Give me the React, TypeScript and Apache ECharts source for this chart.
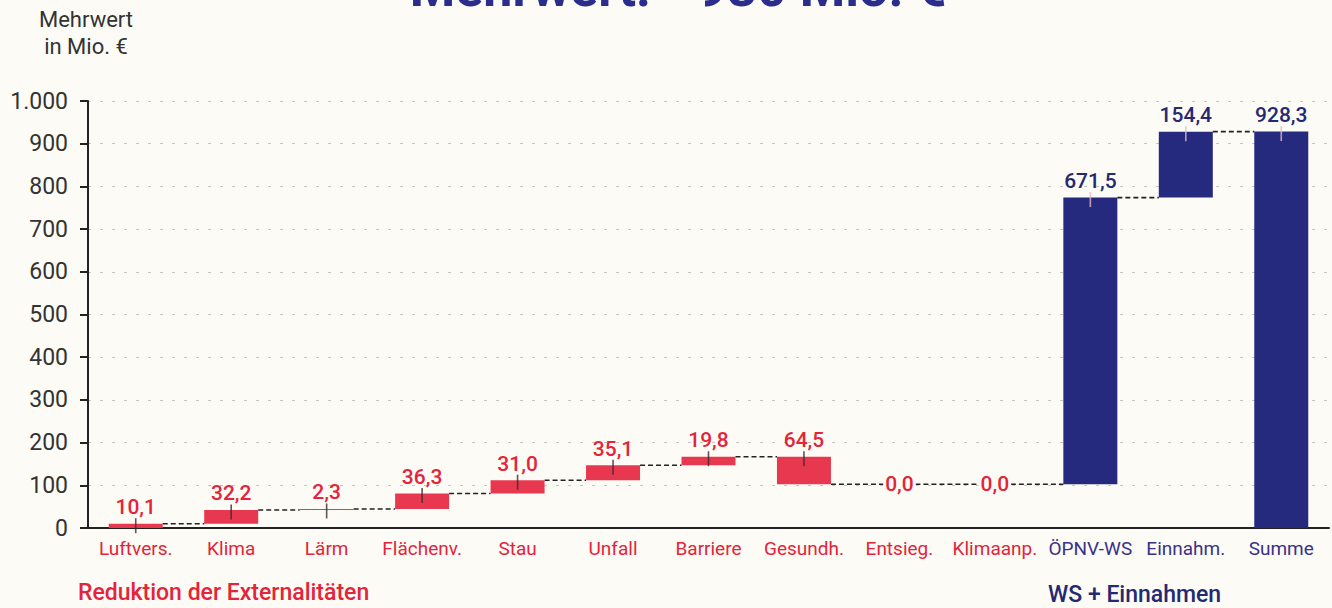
import { useEffect, useRef } from "react";
import * as echarts from "echarts";

const categories = ["Luftvers.", "Klima", "Lärm", "Flächenv.", "Stau", "Unfall", "Barriere", "Gesundh.", "Entsieg.", "Klimaanp.", "ÖPNV-WS", "Einnahm.", "Summe"];
const changes = [10.1, 32.2, 2.3, 36.3, 31.0, 35.1, 19.8, -64.5, 0.0, 0.0, 671.5, 154.4, 928.3];
const isTotal = [false, false, false, false, false, false, false, false, false, false, false, false, true];
const groups = ["ext", "ext", "ext", "ext", "ext", "ext", "ext", "ext", "ext", "ext", "ws", "ws", "sum"];
const yTickLabels = ["0", "100", "200", "300", "400", "500", "600", "700", "800", "900", "1.000"];

const BG = "#fcfbf6";
const RED_BAR = "#e8384f";
const RED_TEXT = "#e52339";
const NAVY_BAR = "#252a7e";
const NAVY_TEXT = "#25296f";
const CAT_BLUE = "#3a3288";
const FONT = "Roboto, 'Noto Sans', sans-serif";
const BAR_W = 54;

export default function App() {
  const ref = useRef<HTMLDivElement>(null);
  useEffect(() => {
    document.body.style.margin = "0";
    document.body.style.background = BG;
    const chart = echarts.init(ref.current!, null, { renderer: "svg" });

    const lows: number[] = [];
    const highs: number[] = [];
    const after: number[] = [];
    let cum = 0;
    changes.forEach((c, i) => {
      if (isTotal[i]) {
        lows.push(0);
        highs.push(c);
        cum = c;
      } else {
        const next = +(cum + c).toFixed(1);
        lows.push(Math.min(cum, next));
        highs.push(Math.max(cum, next));
        cum = next;
      }
      after.push(cum);
    });

    const fmt = (v: number) => Math.abs(v).toFixed(1).replace(".", ",");
    const isExt = (i: number) => groups[i] === "ext";

    const valueData = changes.map((c, i) => {
      const item: any = {
        value: +(highs[i] - lows[i]).toFixed(1),
        itemStyle: { color: isExt(i) ? RED_BAR : NAVY_BAR },
        label: { color: isExt(i) ? RED_TEXT : NAVY_TEXT },
      };
      if (c === 0) {
        item.label = {
          color: RED_TEXT,
          position: "inside",
          backgroundColor: BG,
          padding: [0, 2],
        };
      }
      return item;
    });

    const tickData = changes
      .map((c, i) => ({ c, i }))
      .filter((d) => d.c !== 0)
      .map((d) => ({
        value: [d.i, highs[d.i]],
        itemStyle: { color: isExt(d.i) ? "#3a2a2e" : "#e9b9c8" },
      }));

    const connData = changes.slice(0, changes.length - 1).map((_, i) => [i, after[i]]);

    chart.setOption({
      animation: false,
      backgroundColor: BG,
      grid: { left: 88, right: 3, top: 101, bottom: 80, containLabel: false },
      xAxis: {
        type: "category",
        data: categories,
        axisLine: { show: true, lineStyle: { color: "#222", width: 2 } },
        axisTick: { show: false },
        axisLabel: {
          interval: 0,
          fontFamily: FONT,
          fontSize: 19,
          margin: 11,
          color: (_v: any, i: number) => (isExt(i) ? RED_TEXT : CAT_BLUE),
        },
      },
      yAxis: {
        type: "value",
        min: 0,
        max: 1000,
        interval: 100,
        axisLine: { show: true, lineStyle: { color: "#222", width: 2 } },
        axisTick: { show: true, length: 8, lineStyle: { color: "#222", width: 2 } },
        axisLabel: {
          fontFamily: FONT,
          fontSize: 23,
          color: "#333",
          margin: 20,
          formatter: (v: number) => yTickLabels[Math.round(v / 100)],
        },
        splitLine: { show: true, lineStyle: { color: "#a0a0a0", type: [3, 9], width: 1, opacity: 0.6 } },
      },
      series: [
        {
          type: "custom",
          z: 1,
          data: connData,
          encode: { x: 0, y: 1 },
          renderItem: (_p: any, api: any) => {
            const i = api.value(0);
            const y = api.value(1);
            const p1 = api.coord([i, y]);
            const p2 = api.coord([i + 1, y]);
            const x1 = p1[0] + (changes[i] === 0 ? 0 : BAR_W / 2);
            const x2 = p2[0] - (changes[i + 1] === 0 ? 0 : BAR_W / 2);
            return {
              type: "line",
              shape: { x1, y1: p1[1], x2, y2: p1[1] },
              style: { stroke: "#222", lineWidth: 1.6, lineDash: [5, 3] },
            };
          },
        },
        {
          type: "bar",
          stack: "w",
          z: 2,
          barWidth: BAR_W,
          itemStyle: { color: "transparent" },
          emphasis: { disabled: true },
          data: lows,
        },
        {
          type: "bar",
          stack: "w",
          z: 3,
          barWidth: BAR_W,
          emphasis: { disabled: true },
          data: valueData,
          label: {
            show: true,
            position: "top",
            distance: 6,
            fontFamily: FONT,
            fontSize: 21,
            fontWeight: 500,
            formatter: (p: any) => fmt(changes[p.dataIndex]),
          },
        },
        {
          type: "scatter",
          z: 4,
          symbol: "rect",
          symbolSize: [1.6, 15],
          symbolOffset: [0, 2],
          silent: true,
          data: tickData,
        },
      ],
      graphic: [
        {
          type: "text",
          x: 678,
          y: -38,
          style: {
            text: "Mehrwert: ~930 Mio. €",
            font: `bold 52px ${FONT}`,
            fill: "#2b2d8c",
            align: "center",
          },
        },
        {
          type: "text",
          x: 86,
          y: 6,
          style: {
            text: "Mehrwert\nin Mio. €",
            font: `22px ${FONT}`,
            fill: "#333",
            align: "center",
            lineHeight: 27,
          },
        },
        {
          type: "text",
          x: 78,
          y: 581,
          style: {
            text: "Reduktion der Externalitäten",
            font: `500 23px ${FONT}`,
            fill: RED_TEXT,
          },
        },
        {
          type: "text",
          x: 1048,
          y: 583,
          style: {
            text: "WS + Einnahmen",
            font: `500 23px ${FONT}`,
            fill: NAVY_TEXT,
          },
        },
      ],
    });
    return () => chart.dispose();
  }, []);
  return <div ref={ref} style={{ width: 1332, height: 608 }} />;
}
